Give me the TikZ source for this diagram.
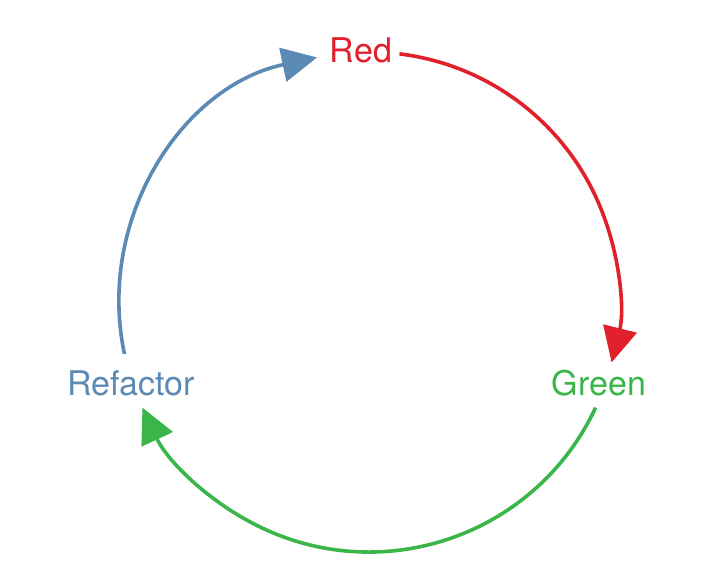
\documentclass[tikz,border=0pt]{standalone}
\usepackage{fontspec}
\setmainfont{TeX Gyre Heros}
\usetikzlibrary{arrows.meta}
\usetikzlibrary{calc}
\definecolor{tddred}{HTML}{E0202A}
\definecolor{tddgreen}{HTML}{3AB54A}
\definecolor{tddblue}{HTML}{5B8AB5}

\begin{document}
\begin{tikzpicture}[x=1pt, y=1pt, step node/.style={inner sep=0, font=\fontsize{34}{38}\selectfont}, cycle arc/.style={line width=3.6pt, -{Triangle[length=35pt, width=34pt]}}, ]
		\useasboundingbox (0,0) rectangle (721,579);
		\coordinate (c) at (369,277);
		\node[step node, text=tddred] (red) at (361,529){Red};
		\node[step node, text=tddgreen] (green) at (599,196){Green};
		\node[step node, text=tddblue] (refactor) at (131,196){Refactor};
		%arc end points on the circle
		\coordinate (r1) at ($(c)+(83:250)$);
		\coordinate (g1) at ($(c)+(-25:250)$);
		\coordinate (b1) at ($(c)+(192:250)$);
		
		\draw[cycle arc, tddred] (r1) arc[start angle=83, end angle=-14, radius=250];
		\draw[cycle arc, tddgreen] (g1) arc[start angle=-25, end angle=-155, radius=250];
		\draw[cycle arc, tddblue] (b1) arc[start angle=192, end angle=102, radius=250];
		
		\end{tikzpicture}
\end{document}
